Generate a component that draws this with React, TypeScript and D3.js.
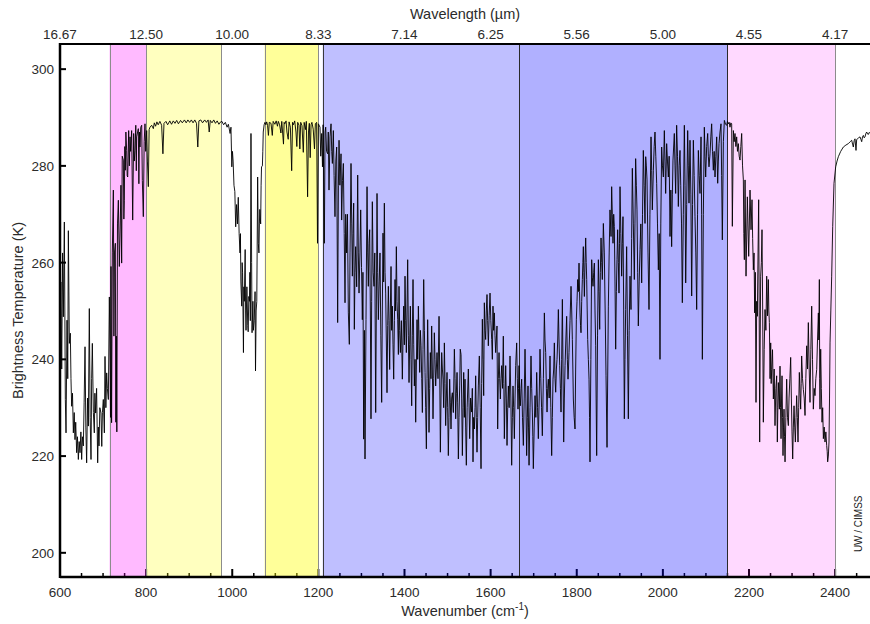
import React, { useEffect, useRef } from 'react';
import * as d3 from 'd3';

// spectrum: [wavenumber (cm-1), brightness temperature (K)]
const farIrBand: [number, number][] = [
  [600, 245.4], [602, 256], [604, 238], [606, 262], [607.8, 248.8], [610.1, 268.4], [612.4, 231.7], [614, 224.8],
  [616.3, 248.1], [618, 236], [619.4, 266.6], [621.7, 243.3], [624, 245.4], [625.5, 236], [627.1, 230.3], [629, 233],
  [631, 224.8], [633, 229], [634.8, 223.4], [636.5, 227], [638.7, 220.7], [640.5, 224], [642.6, 219.3], [644.5, 223],
  [646.5, 220.7], [648.5, 225], [650.3, 219.3], [652, 224], [654.2, 222.1], [656, 231], [658.1, 242.6], [660, 226],
  [661.9, 218.6], [664, 232], [665.8, 226.2], [668.1, 250.5], [670, 228], [672, 219.3], [673.5, 236], [675.1, 243.3],
  [677.5, 229], [679.7, 224.8], [681, 233], [682.8, 228.9], [685, 234], [687.5, 218.6], [689, 226], [690.6, 222.1],
  [692.5, 230], [695.2, 228.9], [697, 222], [698.5, 229], [700.6, 231.7], [703, 224.8], [704.5, 240.6], [706.5, 230],
  [708.4, 237.2], [710, 234], [712.3, 231.7], [714.6, 252.9],
];

const co2Wing: [number, number][] = [
  [716.1, 240.7], [717.3, 228], [718.4, 259.2], [719.8, 226.9], [721.5, 262], [723.9, 275], [725.2, 244.8], [726.5, 262],
  [728.5, 264], [729.7, 227], [730.8, 244.8], [732, 225], [733.5, 268], [735.5, 272.9], [737.8, 259.2], [740.1, 268.8],
  [741.5, 276], [743.2, 259.9], [744.5, 282], [747.1, 281.2], [748.3, 269], [749.4, 272.9], [750.5, 284], [751.7, 279.1],
  [753, 287], [754.8, 283.2], [756, 278], [757.2, 277.7], [759.5, 287.3], [761, 280], [762.6, 286], [764, 283],
  [766.4, 287.3], [768.8, 268.8], [771.1, 286.7], [772.5, 281], [774.2, 283.2], [776, 288.4], [777.2, 279], [778, 286],
  [781.9, 287.7], [783.2, 276.3], [784.5, 287], [785.8, 283.9], [787.5, 288], [789.7, 288.4], [791.2, 277], [793.5, 269.5],
  [795.5, 285], [797.4, 288.7], [799, 283], [801.3, 287.3], [803, 281], [805.1, 275.7], [807, 287.5], [809, 288],
  [812.9, 288.4],
];

const windowBand: [number, number][] = [
  [816.8, 287.7], [819, 288.9], [822, 288.2], [825, 289.1], [828, 288.5], [832, 289.2], [836, 288.4], [839, 282.5],
  [841.5, 288.8], [846, 289.2], [850, 288.5], [855, 289.3], [859, 288.6], [863, 289.3], [867, 288.8], [871, 289.4],
  [875, 288.7], [880, 289.4], [884, 288.9], [889, 289.5], [893, 288.9], [897, 289.5], [901, 289], [905, 289.5],
  [909, 288.9], [913, 289.5], [917, 288.8], [920, 283.9], [922.5, 289.3], [927, 289.5], [931, 288.9], [936, 289.5],
  [940, 289], [944, 289.5], [946.5, 287], [949, 289.4], [953, 288.9], [957, 289.5], [961, 288.8], [965, 289.3],
  [969, 288.6], [973, 289.1],
];

const ozoneBand: [number, number][] = [
  [976, 289.2], [980, 288.5], [984, 289], [988, 288], [991, 288.6], [995, 286.7], [997, 288], [999, 279.8],
  [1000.5, 283], [1002, 281], [1004, 276], [1006, 274.7], [1008, 267.4], [1010, 272], [1012, 268], [1014, 273.5],
  [1016, 266], [1018, 262], [1019, 266], [1020, 256], [1022, 251], [1023, 260], [1024, 258], [1026, 241.4],
  [1027, 255], [1028, 252], [1030, 262.7], [1031, 250], [1032, 246], [1034, 255], [1036, 247], [1037, 245.7],
  [1038.5, 253], [1040, 252], [1041, 258], [1042, 248], [1043.5, 286.7], [1045, 260], [1046, 245.5], [1048, 252],
  [1049, 246], [1051, 248], [1053, 254], [1054, 237.6], [1055.5, 250], [1057, 252], [1059, 277.7], [1060.5, 264],
  [1062, 262], [1063, 268], [1064, 271], [1066, 268], [1067, 276], [1068, 279.8], [1070, 280], [1071, 283],
  [1072, 287], [1074, 288.5], [1076, 289],
];

const upperWindow: [number, number][] = [
  [1078, 288.5], [1080, 289.1], [1082, 288.4], [1084, 286.3], [1086, 289], [1090, 288.8], [1093, 286.3], [1095, 289.2],
  [1099, 288.6], [1102, 289.3], [1105, 288.2], [1107, 289.2], [1110, 288.5], [1113, 286.8], [1115, 289.2], [1119, 284.5],
  [1120.5, 289], [1122, 288.7], [1125, 289.3], [1127, 287], [1130, 285.5], [1132, 289.1], [1135, 288], [1138, 279],
  [1140, 289], [1142, 288.5], [1145, 289.3], [1148, 287], [1150, 284], [1152, 289], [1155, 288.4], [1157, 283.5],
  [1159, 289], [1162, 288.3], [1165, 282.8], [1167, 289], [1170, 287.5], [1172, 289.2], [1175, 273.6], [1177, 287],
  [1179, 288.8], [1181, 281.7], [1183, 288.5], [1185, 289], [1188, 287.6], [1191, 283.5], [1193, 288.7], [1196, 289],
  [1198, 264], [1200, 288.7],
];

const waterVaporLow: [number, number][] = [
  [1203.8, 288], [1205.5, 282], [1207.7, 286.7], [1209.5, 279.8], [1211, 288.5], [1213.9, 264], [1215.5, 287], [1217, 288],
  [1219, 283], [1221.6, 282.5], [1223, 287], [1224.7, 275], [1227, 286], [1229.4, 288.7], [1231, 283], [1232.5, 280.5],
  [1234.8, 287.3], [1236.5, 278], [1238.6, 269.5], [1240.5, 281], [1242.5, 283.9], [1244.8, 247.6], [1246.5, 276], [1248, 285.3],
  [1250, 276], [1252.6, 282.5], [1254.1, 268.8], [1256, 277], [1258, 280.5], [1260, 266], [1261.9, 251.7], [1263.5, 270],
  [1265.7, 262], [1267.5, 270], [1269.6, 249.6], [1271.9, 243.1], [1273.5, 262], [1275.8, 280.5], [1277.5, 268], [1278.9, 257.2],
  [1280.5, 266], [1282, 272.3], [1283.5, 246.2], [1285, 258], [1286.6, 263.3], [1289, 255], [1291.3, 278.1], [1292.8, 262],
  [1294.4, 253.7], [1296.5, 262], [1298.3, 270.9], [1300.2, 259], [1302.1, 248.2], [1303.5, 258], [1305.2, 223.5], [1306.8, 246],
  [1308.3, 219.4], [1310.6, 248.2], [1313, 275.7], [1314.5, 262], [1316, 255.1], [1317.6, 264], [1319.2, 266.8], [1320.7, 250],
  [1322.2, 227.7], [1323.7, 252], [1325.3, 272.6], [1327.2, 258], [1329.2, 255.1], [1331, 262], [1333.1, 229], [1334.6, 250],
  [1336.2, 274.3], [1337.7, 258], [1339.3, 248.2], [1341.2, 256], [1343.1, 262], [1345, 245], [1347, 231.1], [1348.5, 250],
  [1350.1, 266.1], [1351.6, 256], [1353.2, 272.3], [1354.8, 258], [1356.3, 253.7], [1357.8, 244], [1359.4, 233.1], [1361, 247],
  [1362.5, 255.1], [1364, 248], [1365.6, 237.9], [1367.1, 250], [1368.7, 259.2], [1370.2, 246], [1371.8, 251], [1373.3, 243],
  [1374.9, 235.9], [1376.5, 248], [1378, 256.5], [1379.5, 250], [1381.1, 263.3], [1382.6, 252], [1384.2, 248.2], [1385.8, 241],
  [1387.3, 255.1], [1388.8, 246], [1390.4, 241.4], [1392.7, 248], [1395, 235.9], [1396.5, 244], [1398.1, 251], [1399.7, 243],
  [1401.2, 257.2], [1402.8, 248], [1404.3, 241.4], [1405.8, 250], [1407.4, 260.6], [1409, 245], [1410.5, 235.2], [1412, 243],
  [1413.6, 251], [1415.2, 240], [1416.7, 230.4], [1418.2, 245], [1419.8, 256.5], [1421.4, 243], [1422.9, 234.5], [1424.5, 240],
  [1426, 227], [1427.5, 238], [1429.1, 248.2], [1430.6, 240], [1432.2, 251], [1433.8, 244], [1435.3, 237.3], [1436.8, 246],
  [1438.4, 242.8], [1440, 236], [1441.5, 229], [1443, 242], [1444.6, 256.5], [1446.2, 246], [1447.7, 237.3], [1449.2, 230],
  [1450.8, 221.5], [1452.3, 236], [1453.8, 248.2], [1455.4, 238], [1456.9, 224.9], [1458.5, 234], [1460, 241.4], [1461.5, 236],
  [1463.1, 246.9], [1464.7, 238], [1466.2, 227.7], [1467.8, 236], [1469.3, 245.5], [1470.9, 240], [1472.4, 234.5], [1474, 238],
  [1475.5, 241.4], [1477.8, 236], [1480.2, 248.9], [1481.7, 238], [1483.3, 220.8], [1484.8, 232], [1486.4, 241.4], [1488, 238],
  [1489.5, 235.9], [1491, 230], [1492.6, 243.4], [1494.1, 235], [1495.6, 226.3], [1497.2, 232], [1498.7, 237.3], [1500.2, 230],
  [1501.8, 220.1], [1503.3, 228], [1504.9, 235.9], [1506.5, 231], [1508, 225.6], [1509.5, 232], [1511.1, 233.1], [1513.4, 229],
  [1515.8, 242.1], [1517.4, 236], [1518.9, 227.7], [1520.4, 233], [1522, 237.3], [1523.5, 231], [1525.1, 219.4], [1526.6, 228],
  [1528.2, 234.5], [1529.5, 242.1], [1531.3, 241], [1532.8, 232], [1534.4, 220.1], [1536, 230], [1537.5, 237.3], [1539, 228],
];

const waterVaporMid: [number, number][] = [
  [1540.5, 235.9], [1542, 226], [1543.6, 218.1], [1545.5, 230], [1548.3, 238], [1549.8, 231], [1551.4, 223.6], [1553.5, 232],
  [1556, 229.1], [1557.5, 234], [1559.1, 218.8], [1560.6, 228], [1562.2, 225.6], [1563.8, 230], [1565.3, 236.6], [1566.8, 228],
  [1568.4, 220.8], [1570, 228], [1571.5, 234.5], [1573.8, 240.7], [1575.8, 230], [1577.7, 217.4], [1579.2, 235], [1580.8, 248.3],
  [1582.3, 240], [1583.9, 232.5], [1585.4, 251.7], [1587, 246], [1588.5, 244.1], [1590, 250], [1591.6, 253.4], [1593.1, 248],
  [1594.7, 242.8], [1596.6, 249], [1598.6, 253.7], [1600.5, 248], [1602.5, 244.1], [1604, 240], [1605.5, 251], [1607, 246],
  [1608.6, 249.6], [1610.1, 245], [1611.7, 241.4], [1613.2, 244], [1614.8, 246.9], [1616.4, 225.6], [1618, 236], [1619.5, 241.4],
  [1621, 236], [1622.6, 231.8], [1624.2, 236], [1625.7, 238.7], [1627.6, 234], [1629.5, 244.8], [1630.7, 235], [1631.9, 223.6],
  [1633.5, 232], [1635, 238.7], [1636.5, 232], [1638.1, 222.2], [1639.7, 230], [1641.2, 234.5], [1643, 230], [1645, 240.7],
  [1647, 232], [1648.9, 218.1], [1650.5, 228], [1652, 234.5], [1653.5, 230], [1655.1, 223.6], [1656.7, 232], [1658.2, 238.7],
  [1660.5, 243.4], [1662, 236], [1663.6, 229.7], [1664.8, 234], [1666, 238.7], [1667.5, 232], [1669, 230.4], [1670.6, 234],
  [1672.1, 235.9], [1674, 228], [1676, 222.2], [1678, 232], [1679.9, 242.1], [1681.8, 232], [1683.7, 220.1], [1685.3, 228],
  [1686.8, 234.5], [1688, 226], [1689.2, 218.1], [1691.5, 230], [1693.8, 240.7], [1695.4, 234], [1696.9, 229.1], [1698, 224],
  [1699.2, 217.4], [1701.2, 226], [1703.1, 232.5], [1705, 228], [1707, 237.3], [1709, 230], [1710.8, 223.6], [1712.8, 232],
  [1714.7, 242.1], [1716.5, 236], [1718.3, 230], [1720.1, 224.2], [1722.5, 236], [1724.8, 249.6], [1726.3, 244], [1727.9, 241.4],
  [1729.5, 234], [1731, 229.1], [1732.5, 234], [1734, 235.9], [1736, 232], [1737.9, 240.7], [1739.8, 230], [1741.8, 220.1],
  [1743.3, 228], [1744.9, 235.9], [1746.5, 238], [1748, 243.4], [1749.6, 236], [1751.1, 233.2], [1752.7, 238], [1754.2, 240],
  [1755.8, 244], [1757.3, 250.3], [1758.8, 244], [1760.4, 238.7], [1762, 234], [1763.5, 229.1], [1765, 240], [1766.6, 252.4],
  [1768.1, 238], [1769.7, 222.9], [1771.2, 232], [1772.8, 238.7], [1774.7, 244], [1776.6, 248.9], [1778.2, 240], [1779.7, 235.9],
  [1780.8, 238], [1782, 241.4], [1784.4, 248], [1786.7, 255.1], [1788.3, 250], [1789.8, 244.1], [1791, 238], [1792.1, 231.8],
  [1794, 228], [1796, 225.6], [1797.5, 238], [1799.1, 248.3], [1800.6, 252], [1802.2, 256.5], [1803.8, 254], [1805.3, 259.9],
  [1806.5, 254], [1807.6, 249.6], [1808.8, 247], [1809.9, 245.5], [1811.5, 252], [1813, 256.5], [1814.2, 260], [1815.3, 263.3],
  [1816.5, 258], [1817.7, 253], [1819.2, 260], [1820.8, 265.1], [1822, 260], [1823.1, 256.5], [1824.3, 250], [1825.4, 244.1],
  [1827, 240], [1828.5, 235.9], [1829.7, 228], [1830.8, 218.8], [1832.8, 240], [1834.7, 260.6], [1836.2, 257], [1837.8, 255.1],
  [1839.4, 258], [1840.9, 259.9], [1842.4, 250], [1844, 242.8], [1845, 232], [1846.3, 220.1], [1848.3, 245], [1850.2, 260.6],
  [1851.7, 254], [1853.3, 246.2], [1854.8, 258], [1856.4, 265.1], [1858, 260], [1859.4, 256.5], [1860.6, 262], [1861.8, 268.1],
];

const waterVaporHigh: [number, number][] = [
  [1864, 262], [1866, 250], [1868, 236.6], [1870.3, 221.8], [1873.4, 251], [1875.3, 262], [1877.2, 270.9], [1879.6, 265.4],
  [1881.1, 275.7], [1882.6, 270], [1884.2, 264], [1885.8, 270], [1887.3, 267.5], [1888.8, 256], [1890.4, 242.1], [1892, 254],
  [1893.5, 260.6], [1895, 266.8], [1896.6, 260], [1898.1, 253.7], [1899.3, 264], [1900.5, 275.7], [1902.4, 266], [1904.3, 257.2],
  [1905.8, 264], [1907.4, 269.5], [1909, 250], [1910.5, 227.7], [1912, 240], [1913.6, 250.3], [1915.9, 263.3], [1917.8, 245],
  [1919.8, 227.7], [1921.7, 246], [1923.7, 257.2], [1926, 250.3], [1927.5, 265], [1929.1, 279.5], [1931.4, 268], [1933.7, 256.5],
  [1935.2, 268], [1936.8, 281.5], [1938.4, 276], [1939.9, 270.9], [1941.5, 258], [1943, 246.9], [1945, 256], [1946.9, 262.7],
  [1948.8, 268], [1950.8, 255.8], [1952.7, 270], [1954.6, 283.2], [1956.5, 276], [1958.5, 268.1], [1960.1, 281.9], [1961.6, 280],
  [1963.2, 277.1], [1965.5, 262], [1967.8, 250.3], [1970, 270], [1972.5, 286], [1974, 279], [1975.5, 270.9], [1977.9, 279.1],
  [1979.8, 284], [1981.7, 287], [1983.6, 282], [1985.6, 276.4], [1987.5, 268], [1989.5, 258.5], [1991.4, 266], [1993.3, 240],
  [1995.2, 268], [1997.2, 283.9], [1999.1, 280], [2001.1, 277.7], [2003.4, 287.3], [2005, 281], [2006.5, 274.3], [2008.8, 284.6],
  [2010.7, 281], [2012.7, 277.7], [2014.6, 282], [2016.6, 265.4], [2018.5, 275], [2020.4, 263.3], [2022, 274], [2023.5, 281.2],
  [2026.6, 286.7], [2028.2, 280], [2029.7, 274.3], [2032, 288.4], [2034, 282], [2035.9, 271.6], [2037.8, 280], [2039.8, 283.2],
  [2041.5, 276], [2043.3, 268], [2045.2, 251.7], [2047.5, 270], [2049.9, 288.4], [2051.5, 276], [2053, 255.8], [2055.3, 272],
  [2057.6, 287.3], [2059.1, 280], [2060.7, 272.3], [2063, 285.3], [2065, 274], [2066.9, 253.1], [2068.9, 272], [2070.8, 285.3],
  [2072.7, 278], [2074.6, 269.5], [2076.5, 262], [2078.5, 250.3], [2080.5, 270], [2082.4, 283.2], [2084.3, 278], [2086.2, 274.3],
  [2088.6, 286], [2090, 270], [2091.7, 240], [2094, 270], [2096.3, 288], [2097.8, 282], [2099.4, 277.7], [2101.7, 284],
  [2104.1, 286.7], [2105.6, 282], [2107.1, 279.8], [2109.5, 282.5], [2111.4, 286], [2113.3, 288.7], [2115.3, 283], [2117.2, 279.1],
  [2119.1, 283], [2121.1, 277.7], [2123, 282], [2125, 286], [2127.3, 276.4], [2128.8, 281], [2130.4, 284.6], [2132.7, 287],
  [2135, 288.7], [2136.5, 278], [2138.1, 264.7], [2140.5, 285], [2142.8, 289.4], [2145.5, 288.6], [2148.2, 288.4], [2150, 289.2],
  [2152.1, 288.7], [2154, 289], [2155.9, 288], [2157.8, 288.9], [2159.8, 288.7], [2161.3, 267.5], [2163.7, 287.3], [2165.6, 285],
  [2167.5, 286.7], [2169.5, 284], [2171.4, 286], [2173.3, 283], [2175.3, 284.6], [2177.2, 282], [2179.1, 281.2], [2181, 284],
  [2183, 286.7], [2185, 280], [2186.9, 277.1], [2188, 266], [2189.2, 260.6],
];

const co2Shortwave: [number, number][] = [
  [2190.8, 277.1], [2193.1, 257.2], [2196.2, 273.6], [2199.3, 261.3], [2202.4, 275], [2204.7, 266.8], [2207, 273], [2208.5, 265],
  [2210.1, 258.5], [2211.7, 262], [2213.2, 249.6], [2214.7, 258], [2216.3, 231.1], [2217.9, 252], [2219.4, 248.9], [2221, 262],
  [2222.5, 273], [2223.7, 250], [2224.8, 222.9], [2226, 244], [2227.1, 257.2], [2228.7, 260], [2230.2, 266.8], [2231.8, 250],
  [2233.3, 227], [2235.3, 242], [2237.2, 250.3], [2239.2, 246], [2241.1, 257.2], [2243, 249], [2244.9, 256.5], [2246.1, 250],
  [2247.3, 247.6], [2248.9, 236], [2250.4, 243.4], [2251.5, 235], [2252.7, 237.9], [2254.6, 242], [2256.6, 231.8], [2258.5, 238],
  [2260.4, 226.3], [2262.4, 234], [2264.3, 236.6], [2265.8, 222.9], [2267, 230], [2268.2, 235.2], [2270.5, 229.7], [2272, 238.6],
  [2273.2, 230], [2274.4, 223.6], [2275.6, 232], [2276.7, 236.6], [2277.9, 228], [2279, 220.1], [2280.2, 226], [2281.3, 229.7],
  [2282.5, 224], [2283.7, 218.8], [2285.6, 228], [2287.5, 235.9], [2289.4, 228], [2291.4, 226.3], [2293, 232], [2294.9, 236],
  [2296.8, 240.4], [2298.4, 232], [2299.9, 225], [2301.5, 219.4], [2303, 226], [2304.6, 230.4], [2306.2, 226], [2307.7, 222.9],
  [2309.2, 228], [2310.7, 232.5], [2312.3, 228], [2313.8, 222.9], [2315.4, 230], [2316.9, 237.3], [2318.5, 233], [2320, 229.7],
  [2321.2, 235], [2322.3, 240.7], [2324.3, 236], [2326.2, 233.8], [2328.2, 232], [2330.1, 228.4], [2332, 236], [2334, 242.8],
  [2335.9, 238], [2337.8, 247.6], [2339.8, 238], [2341.7, 231.1], [2343.6, 242], [2345.6, 251], [2347.5, 240], [2349.4, 229.7],
  [2351.4, 234], [2353.3, 232.5], [2355.2, 236], [2357.2, 237.9], [2359.1, 244], [2361.1, 249.6], [2362.2, 244], [2363.4, 256.5],
  [2364.2, 236], [2364.9, 229.7], [2365.7, 238], [2366.5, 242.1], [2368, 234], [2369.6, 227], [2371.1, 230], [2372.7, 223.6],
  [2374.6, 226], [2376.5, 222.9], [2378.5, 225], [2380.4, 222.2], [2381.6, 221], [2382.7, 218.8], [2384.3, 220], [2385.8, 222.9],
  [2387, 232], [2388.2, 243.4], [2390, 250], [2392, 257.2], [2394.4, 267.5], [2397.4, 276.4], [2401.3, 279.8], [2404.5, 281],
  [2407.5, 281.9], [2413, 283], [2419.1, 283.9], [2425, 284.3], [2430.7, 284.6], [2435, 285], [2438.5, 285.3], [2440.5, 284.5],
  [2442.3, 283.9], [2444.2, 285.2], [2446.2, 285.6], [2448.5, 283.2], [2450, 285.4], [2451.6, 285.6], [2454.5, 285.8], [2457.8, 286],
  [2459.8, 285.5], [2461.7, 285], [2463.6, 286], [2465.6, 286.3], [2467.5, 285.8], [2469.4, 286], [2471.4, 286.7], [2473.3, 287],
  [2475.2, 286.6], [2477.2, 286.5], [2479, 286.9], [2481, 286.8],
];

// shaded channel regions (cm-1)
const bandFrom = [715, 800, 1075, 1210, 1665, 2150];
const bandTo = [800, 975, 1200, 1665, 2150, 2400];
const bandFills = [
  'rgba(255,0,255,0.27)',
  'rgba(255,255,0,0.25)',
  'rgba(255,255,0,0.4)',
  'rgba(0,0,255,0.25)',
  'rgba(0,0,255,0.31)',
  'rgba(255,0,255,0.15)',
];
const bandEdges = [715, 800, 975, 1075, 1200, 1210, 1665, 2150, 2400];
const bandEdgeColors = ['#8c8c8c', '#8c8c8c', '#8c8c8c', '#8c8c8c', '#8c8c8c', '#3a3a3a', '#2a2a2a', '#2a2a2a', '#8c8c8c'];

const wavenumberTicks = [600, 800, 1000, 1200, 1400, 1600, 1800, 2000, 2200, 2400];
const wavelengthLabels = ['16.67', '12.50', '10.00', '8.33', '7.14', '6.25', '5.56', '5.00', '4.55', '4.17'];
const temperatureTicks = [200, 220, 240, 260, 280, 300];

const App = () => {
  const svgRef = useRef(null);

  useEffect(() => {
    const svgEl = svgRef.current;
    if (!svgEl) return;
    const svg = d3.select(svgEl);
    svg.selectAll('*').remove();

    const width = 870;
    const height = 624;
    const left = 60;
    const right = 870;
    const top = 44;
    const bottom = 577;
    const font = '"Liberation Sans", Arial, sans-serif';
    const textColor = '#2b2b2b';

    svg.attr('width', width).attr('height', height);

    const x = d3.scaleLinear().domain([600, 2481]).range([left, right]);
    const y = d3.scaleLinear().domain([195, 305.2]).range([bottom, top]);

    svg.append('rect').attr('width', width).attr('height', height).attr('fill', '#fff');

    svg
      .append('defs')
      .append('clipPath')
      .attr('id', 'plot-clip')
      .append('rect')
      .attr('x', left)
      .attr('y', top)
      .attr('width', right - left)
      .attr('height', bottom - top);

    // tick marks sit under the translucent bands, so they pick up the band colour
    const minor = d3.range(600, 2481, 50);
    svg
      .append('g')
      .selectAll('line')
      .data(minor)
      .enter()
      .append('line')
      .attr('x1', (d) => x(d))
      .attr('x2', (d) => x(d))
      .attr('y1', bottom)
      .attr('y2', (d) => (d % 200 === 0 ? bottom - 8 : bottom - 4))
      .attr('stroke', '#000')
      .attr('stroke-width', (d) => (d % 200 === 0 ? 2 : 1.5));

    svg
      .append('g')
      .selectAll('line')
      .data(temperatureTicks)
      .enter()
      .append('line')
      .attr('x1', left)
      .attr('x2', left + 6)
      .attr('y1', (d) => y(d))
      .attr('y2', (d) => y(d))
      .attr('stroke', '#000')
      .attr('stroke-width', 2);

    // bands
    svg
      .append('g')
      .selectAll('rect')
      .data(bandFrom)
      .enter()
      .append('rect')
      .attr('x', (d) => x(d))
      .attr('y', top)
      .attr('width', (d, i) => x(bandTo[i]) - x(d))
      .attr('height', bottom - top)
      .attr('fill', (d, i) => bandFills[i]);

    svg
      .append('g')
      .selectAll('line')
      .data(bandEdges)
      .enter()
      .append('line')
      .attr('x1', (d) => Math.round(x(d)) + 0.5)
      .attr('x2', (d) => Math.round(x(d)) + 0.5)
      .attr('y1', top)
      .attr('y2', bottom)
      .attr('stroke', (d, i) => bandEdgeColors[i])
      .attr('stroke-width', 1);

    // spectrum
    const spectrum = [
      ...farIrBand,
      ...co2Wing,
      ...windowBand,
      ...ozoneBand,
      ...upperWindow,
      ...waterVaporLow,
      ...waterVaporMid,
      ...waterVaporHigh,
      ...co2Shortwave,
    ];
    const line = d3
      .line()
      .x((d) => x(d[0]))
      .y((d) => y(d[1]));

    svg
      .append('path')
      .datum(spectrum)
      .attr('clip-path', 'url(#plot-clip)')
      .attr('fill', 'none')
      .attr('stroke', '#000')
      .attr('stroke-width', 0.9)
      .attr('d', line);

    // axis frame
    svg.append('line').attr('x1', left).attr('x2', right).attr('y1', bottom).attr('y2', bottom).attr('stroke', '#000').attr('stroke-width', 2.5);
    svg.append('line').attr('x1', left).attr('x2', right).attr('y1', top).attr('y2', top).attr('stroke', '#000').attr('stroke-width', 2);
    svg.append('line').attr('x1', left).attr('x2', left).attr('y1', top - 1).attr('y2', bottom + 1).attr('stroke', '#000').attr('stroke-width', 2.5);

    // bottom labels
    svg
      .append('g')
      .selectAll('text')
      .data(wavenumberTicks)
      .enter()
      .append('text')
      .attr('x', (d) => x(d))
      .attr('y', bottom + 20)
      .attr('text-anchor', 'middle')
      .attr('font-family', font)
      .attr('font-size', 13.5)
      .attr('fill', textColor)
      .text((d) => d);

    // top labels (wavelength)
    svg
      .append('g')
      .selectAll('text')
      .data(wavenumberTicks)
      .enter()
      .append('text')
      .attr('x', (d) => x(d))
      .attr('y', top - 5)
      .attr('text-anchor', 'middle')
      .attr('font-family', font)
      .attr('font-size', 13.5)
      .attr('fill', textColor)
      .text((d, i) => wavelengthLabels[i]);

    // left labels
    svg
      .append('g')
      .selectAll('text')
      .data(temperatureTicks)
      .enter()
      .append('text')
      .attr('x', left - 6)
      .attr('y', (d) => y(d) + 5)
      .attr('text-anchor', 'end')
      .attr('font-family', font)
      .attr('font-size', 13.5)
      .attr('fill', textColor)
      .text((d) => d);

    // titles
    const xTitle = svg
      .append('text')
      .attr('x', (left + right) / 2)
      .attr('y', 616)
      .attr('text-anchor', 'middle')
      .attr('font-family', font)
      .attr('font-size', 14.5)
      .attr('fill', textColor);
    xTitle.append('tspan').text('Wavenumber (cm');
    xTitle.append('tspan').attr('font-size', 10).attr('dy', -6).text('-1');
    xTitle.append('tspan').attr('dy', 6).text(')');

    svg
      .append('text')
      .attr('x', (left + right) / 2)
      .attr('y', 19)
      .attr('text-anchor', 'middle')
      .attr('font-family', font)
      .attr('font-size', 14.5)
      .attr('fill', textColor)
      .text('Wavelength (\u00b5m)');

    svg
      .append('text')
      .attr('transform', `translate(23,${(top + bottom) / 2}) rotate(-90)`)
      .attr('text-anchor', 'middle')
      .attr('font-family', font)
      .attr('font-size', 14.5)
      .attr('fill', textColor)
      .text('Brightness Temperature (K)');

    svg
      .append('text')
      .attr('transform', `translate(862,${y(206)}) rotate(-90)`)
      .attr('text-anchor', 'middle')
      .attr('font-family', font)
      .attr('font-size', 10)
      .attr('fill', '#222')
      .text('UW / CIMSS');
  }, []);

  return <svg ref={svgRef} style={{ position: 'absolute', left: 0, top: 0, display: 'block' }} />;
};

export default App;
